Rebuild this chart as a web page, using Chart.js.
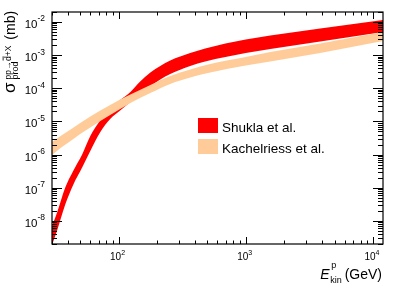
<!DOCTYPE html>
<html>
<head>
<meta charset="utf-8">
<script src="https://cdn.jsdelivr.net/npm/chart.js@4.4.0/dist/chart.umd.min.js"></script>
<style>
	html, body { margin: 0; padding: 0; background: #fff; }
</style>
</head>
<body>
<canvas id="chartXsec" width="399" height="288"></canvas>
<script>
'use strict'

// proton kinetic energy (GeV) and band edges of the production cross section (mb)
const energyShukla = [30, 33, 38, 44, 52, 60, 72, 86, 103, 124, 148, 178, 213, 255, 366, 480, 1000, 1560, 3850, 12000];
const shuklaHigh = [6.98e-9, 1.85e-8, 9.8e-8, 3.19e-7, 1.04e-6, 3.63e-6, 1.1e-5, 2.72e-5, 4.43e-5, 7.7e-5, 1.6e-4, 2.99e-4, 4.7e-4, 6.89e-4, 1.16e-3, 1.59e-3, 2.96e-3, 3.92e-3, 6.37e-3, 1.15e-2];
const shuklaLow = [1.87e-9, 5.3e-9, 3.0e-8, 1.21e-7, 4.2e-7, 1.28e-6, 4.8e-6, 1.18e-5, 2.13e-5, 3.86e-5, 6.95e-5, 1.17e-4, 1.84e-4, 2.7e-4, 4.7e-4, 6.43e-4, 1.16e-3, 1.53e-3, 2.58e-3, 4.99e-3];

const energyKach = [30, 35, 42, 50, 60, 72, 86, 103, 124, 178, 255, 366, 526, 1000, 1560, 3850, 12000];
const kachHigh = [2.39e-6, 3.63e-6, 5.7e-6, 8.95e-6, 1.41e-5, 2.14e-5, 3.13e-5, 4.58e-5, 6.49e-5, 1.26e-4, 2.35e-4, 3.69e-4, 5.41e-4, 8.79e-4, 1.24e-3, 2.25e-3, 4.99e-3];
const kachLow = [9.7e-7, 1.58e-6, 2.56e-6, 4.17e-6, 6.56e-6, 1.03e-5, 1.56e-5, 2.37e-5, 3.6e-5, 7.2e-5, 1.35e-4, 2.11e-4, 2.99e-4, 4.86e-4, 6.43e-4, 1.16e-3, 2.67e-3];

const xDecades = [2, 3, 4];
const yDecades = [-8, -7, -6, -5, -4, -3, -2];
const seriesNames = ['Shukla et al.', 'Kachelriess et al.'];

const colors = {
	red: '#FF0000',
	peach: '#FFCC99',
	text: '#000000',
};
const fontFamily = '"Liberation Sans", Arial, sans-serif';

const toPoints = (xs, ys) => xs.map((x, i) => ({ x: x, y: ys[i] }));

const band = {
	borderWidth: 0,
	pointRadius: 0,
	cubicInterpolationMode: 'monotone',
};

// peach first so it is painted over the red band
const datasets = [
	{ ...band, label: seriesNames[1], legendColor: colors.peach, data: toPoints(energyKach, kachHigh), fill: '+1', backgroundColor: colors.peach, borderColor: colors.peach },
	{ ...band, data: toPoints(energyKach, kachLow), fill: false, borderColor: colors.peach },
	{ ...band, label: seriesNames[0], legendColor: colors.red, data: toPoints(energyShukla, shuklaHigh), fill: '+1', backgroundColor: colors.red, borderColor: colors.red },
	{ ...band, data: toPoints(energyShukla, shuklaLow), fill: false, borderColor: colors.red },
];

function drawPower(ctx, exp, px, py, align, baseSize, expSize, rise) {
	ctx.font = baseSize + 'px ' + fontFamily;
	const wBase = ctx.measureText('10').width;
	ctx.font = expSize + 'px ' + fontFamily;
	const wExp = ctx.measureText(exp).width;
	let x0 = align === 'right' ? px - wBase - wExp : px - (wBase + wExp) / 2;
	ctx.textAlign = 'left';
	ctx.textBaseline = 'alphabetic';
	ctx.font = baseSize + 'px ' + fontFamily;
	ctx.fillText('10', x0, py);
	ctx.font = expSize + 'px ' + fontFamily;
	ctx.fillText(exp, x0 + wBase, py - rise);
}

const rootFrame = {
	id: 'rootFrame',
	afterDraw(chart) {
		const { ctx, chartArea: { left, right, top, bottom }, scales: { x, y } } = chart;
		ctx.save();
		ctx.strokeStyle = colors.text;
		ctx.fillStyle = colors.text;
		ctx.lineWidth = 1.2;
		ctx.strokeRect(left, top, right - left, bottom - top);

		// log ticks on all four sides, pointing inwards
		ctx.lineWidth = 1;
		ctx.beginPath();
		for (let n = 1; n <= 4; n++) {
			for (let k = 1; k <= 9; k++) {
				const v = k * Math.pow(10, n);
				if (v < x.min || v > x.max) continue;
				const px = Math.round(x.getPixelForValue(v)) + 0.5;
				const len = k === 1 ? 7 : 3.5;
				ctx.moveTo(px, bottom); ctx.lineTo(px, bottom - len);
				ctx.moveTo(px, top); ctx.lineTo(px, top + len);
			}
		}
		for (let n = -9; n <= -2; n++) {
			for (let k = 1; k <= 9; k++) {
				const v = k * Math.pow(10, n);
				if (v < y.min || v > y.max) continue;
				const py = Math.round(y.getPixelForValue(v)) + 0.5;
				const len = k === 1 ? 10 : 5;
				ctx.moveTo(left, py); ctx.lineTo(left + len, py);
				ctx.moveTo(right, py); ctx.lineTo(right - len, py);
			}
		}
		ctx.stroke();

		// tick labels
		xDecades.forEach((d) => {
			drawPower(ctx, String(d), x.getPixelForValue(Math.pow(10, d)) - 1, 260, 'center', 10, 7, 5.5);
		});
		yDecades.forEach((d) => {
			const py = y.getPixelForValue(Math.pow(10, d));
			drawPower(ctx, '-' + Math.abs(d), 45, py + 6, 'right', 11.5, 8.5, 6.5);
		});

		// x title: E_kin^p (GeV), right aligned at the axis end
		ctx.textBaseline = 'alphabetic';
		ctx.textAlign = 'right';
		ctx.font = '14px ' + fontFamily;
		ctx.fillText('(GeV)', right - 1, 278.5);
		const wGeV = ctx.measureText('(GeV)').width;
		ctx.font = '9px ' + fontFamily;
		const subEnd = right - 1 - wGeV - 3;
		ctx.fillText('kin', subEnd, 283);
		const wKin = ctx.measureText('kin').width;
		ctx.textAlign = 'left';
		ctx.fillText('p', subEnd - wKin + 1, 268);
		ctx.textAlign = 'right';
		ctx.font = 'italic 14px ' + fontFamily;
		ctx.fillText('E', subEnd - wKin - 0.5, 278.5);

		// y title: sigma_prod^{pp -> dbar+X} (mb), rotated, reading upwards
		ctx.translate(15, 93);
		ctx.rotate(-Math.PI / 2);
		ctx.textAlign = 'left';
		ctx.font = '17px ' + fontFamily;
		ctx.fillText('\u03C3', 0, 0);
		let pos = ctx.measureText('\u03C3').width + 3;
		ctx.font = '9px ' + fontFamily;
		ctx.fillText('prod', pos, 2.5);
		const wSub = ctx.measureText('prod').width;
		// superscript pieces, with a bar drawn over the d
		ctx.font = '8.5px ' + fontFamily;
		let sx = pos;
		const supY = -4.5;
		ctx.fillText('pp\u2192', sx, supY);
		sx += ctx.measureText('pp\u2192').width + 0.5;
		ctx.fillText('d', sx, supY);
		const wD = ctx.measureText('d').width;
		ctx.fillRect(sx + 0.5, supY - 7.8, wD - 0.5, 0.8);
		sx += wD;
		ctx.fillText('+X', sx, supY);
		sx += ctx.measureText('+X').width;
		pos = Math.max(pos + wSub, sx) + 6;
		ctx.font = '14px ' + fontFamily;
		ctx.fillText('(mb)', pos, 0);
		ctx.restore();

		// legend
		ctx.save();
		ctx.font = '13.5px ' + fontFamily;
		ctx.textAlign = 'left';
		ctx.textBaseline = 'alphabetic';
		const entries = chart.data.datasets.filter((ds) => ds.label).reverse();
		entries.forEach((ds, i) => {
			const yTop = 118 + i * 21;
			ctx.fillStyle = ds.legendColor;
			ctx.fillRect(198, yTop, 20, 15);
			ctx.fillStyle = colors.text;
			ctx.fillText(ds.label, 222, yTop + 13.5);
		});
		ctx.restore();
	},
};

new Chart(document.getElementById('chartXsec'), {
	type: 'line',
	data: { datasets: datasets },
	options: {
		responsive: false,
		animation: false,
		layout: {
			padding: { left: 52, top: 12, right: 16, bottom: 44 },
		},
		plugins: {
			legend: { display: false },
			tooltip: { enabled: false },
		},
		scales: {
			x: { type: 'logarithmic', min: 30, max: 12000, display: false },
			y: { type: 'logarithmic', min: 2e-9, max: 0.02, display: false },
		},
	},
	plugins: [rootFrame],
});
</script>
</body>
</html>
